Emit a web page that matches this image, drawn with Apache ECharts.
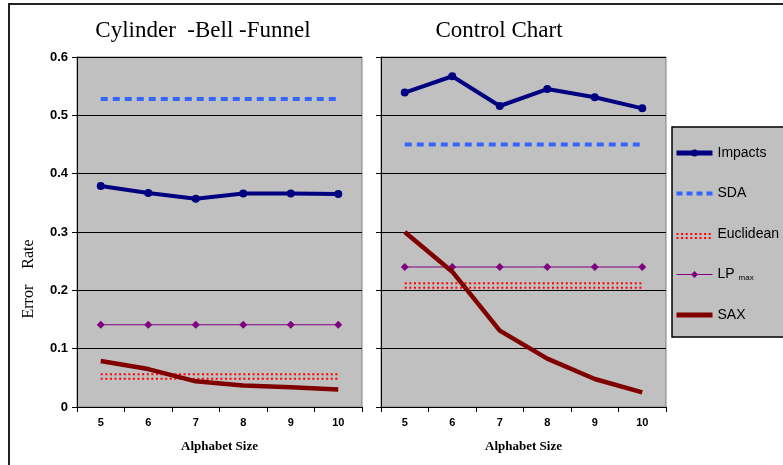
<!DOCTYPE html>
<html>
<head>
<meta charset="utf-8">
<script src="https://cdn.jsdelivr.net/npm/echarts@6/dist/echarts.min.js"></script>
<style>
  html, body {margin: 0; padding: 0; background: #fff; overflow: hidden;}
  #frame {position: absolute; left: 8px; top: 3px; width: 800px; height: 500px; border: 2px solid #222;}
  #main {position: absolute; left: 0; top: 0; width: 783px; height: 465px;}
</style>
</head>
<body>
<div id="frame"></div>
<div id="main"></div>
<script>
// alphabet sizes
const categories = ['5', '6', '7', '8', '9', '10'];
const yTicks = {min: 0, max: 0.6, interval: 0.1};

// Cylinder-Bell-Funnel
const cbfImpacts = [0.379, 0.367, 0.357, 0.366, 0.366, 0.365];
const cbfSda = [0.528, 0.528, 0.528, 0.528, 0.528, 0.528];
const cbfEuclidean = [0.056, 0.056, 0.056, 0.056, 0.056, 0.056];
const cbfLp = [0.141, 0.141, 0.141, 0.141, 0.141, 0.141];
const cbfSax = [0.079, 0.065, 0.044, 0.037, 0.034, 0.030];

// Control Chart
const ccImpacts = [0.539, 0.567, 0.516, 0.545, 0.531, 0.512];
const ccSda = [0.450, 0.450, 0.450, 0.450, 0.450, 0.450];
const ccEuclidean = [0.212, 0.212, 0.212, 0.212, 0.212, 0.212];
const ccLp = [0.240, 0.240, 0.240, 0.240, 0.240, 0.240];
const ccSax = [0.300, 0.232, 0.131, 0.083, 0.048, 0.025];

const serif = '"Liberation Serif", "Times New Roman", serif';
const sans = '"Liberation Sans", Arial, sans-serif';

const euclidStyle = {color: '#ff0000', width: 2, type: [2, 2.6], shadowColor: '#ff0000', shadowOffsetY: 4.5, shadowBlur: 0};

const chart = echarts.init(document.getElementById('main'));

const makeSeries = (idx, impacts, sda, euclid, lp, sax) => [
	{
		name: 'Euclidean', type: 'line', xAxisIndex: idx, yAxisIndex: idx, data: euclid,
		symbol: 'none', z: 2, itemStyle: {color: '#ff0000'},
		lineStyle: euclidStyle
	},
	{
		name: 'SDA', type: 'line', xAxisIndex: idx, yAxisIndex: idx, data: sda,
		symbol: 'none', z: 2, itemStyle: {color: '#3366ff'},
		lineStyle: {color: '#3366ff', width: 4, type: [7, 5]}
	},
	{
		name: 'LPmax', type: 'line', xAxisIndex: idx, yAxisIndex: idx, data: lp,
		symbol: 'diamond', symbolSize: 8, showSymbol: true, z: 3,
		itemStyle: {color: '#800080'},
		lineStyle: {color: '#800080', width: 1}
	},
	{
		name: 'SAX', type: 'line', xAxisIndex: idx, yAxisIndex: idx, data: sax,
		symbol: 'none', z: 4, itemStyle: {color: '#800000'},
		lineStyle: {color: '#800000', width: 4.5, cap: 'butt'}
	},
	{
		name: 'Impacts', type: 'line', xAxisIndex: idx, yAxisIndex: idx, data: impacts,
		symbol: 'circle', symbolSize: 8, showSymbol: true, z: 5,
		itemStyle: {color: '#000080'},
		lineStyle: {color: '#000080', width: 4}
	}
];

const makeX = (idx) => ({
	type: 'category', gridIndex: idx, data: categories, boundaryGap: true,
	name: 'Alphabet Size', nameLocation: 'middle', nameGap: 33,
	nameTextStyle: {fontFamily: serif, fontSize: 13, fontWeight: 'bold', color: '#000'},
	axisLine: {lineStyle: {color: '#000', width: 1}},
	axisTick: {show: true, length: 5, lineStyle: {color: '#000'}},
	axisLabel: {fontFamily: sans, fontSize: 11, fontWeight: 'bold', color: '#000', margin: 10},
	splitLine: {show: false}
});

const makeY = (idx, labels) => ({
	type: 'value', gridIndex: idx, min: yTicks.min, max: yTicks.max, interval: yTicks.interval,
	axisLine: {show: true, lineStyle: {color: '#000', width: 1}},
	axisTick: {show: true, length: 5, lineStyle: {color: '#000'}},
	axisLabel: {show: labels, fontFamily: sans, fontSize: 13, fontWeight: 'bold', color: '#000', margin: 9},
	splitLine: {show: true, lineStyle: {color: '#000', width: 1}}
});

chart.setOption({
	animation: false,
	title: [
		{text: 'Cylinder  -Bell -Funnel', left: 198, top: 14, textAlign: 'center',
			textStyle: {fontFamily: serif, fontSize: 23, fontWeight: 'normal', color: '#000'}},
		{text: 'Control Chart', left: 494, top: 14, textAlign: 'center',
			textStyle: {fontFamily: serif, fontSize: 23, fontWeight: 'normal', color: '#000'}}
	],
	graphic: [
		{type: 'text', x: 29, y: 279, rotation: Math.PI / 2,
			style: {text: 'Error    Rate', fontFamily: serif, fontSize: 16, fill: '#000', align: 'center', verticalAlign: 'middle'}}
	],
	grid: [
		{left: 77, top: 57, width: 285, height: 350, show: true, backgroundColor: '#c0c0c0', borderColor: '#808080', borderWidth: 1},
		{left: 381, top: 57, width: 285, height: 350, show: true, backgroundColor: '#c0c0c0', borderColor: '#808080', borderWidth: 1}
	],
	xAxis: [makeX(0), makeX(1)],
	yAxis: [makeY(0, true), makeY(1, false)],
	legend: {
		orient: 'vertical', left: 672, top: 127,
		data: [
			{name: 'Impacts', lineStyle: {width: 5}},
			{name: 'SDA', itemStyle: {opacity: 0}, lineStyle: {width: 4, type: [6, 4]}},
			{name: 'Euclidean', itemStyle: {opacity: 0}, lineStyle: {width: 2, type: [2, 2.6], shadowColor: '#ff0000', shadowOffsetY: 4, shadowBlur: 0}},
			{name: 'LPmax', lineStyle: {width: 1}},
			{name: 'SAX', itemStyle: {opacity: 0}, lineStyle: {width: 5}}
		],
		backgroundColor: '#c0c0c0', borderColor: '#000', borderWidth: 1.5, borderRadius: 0,
		padding: [19, 30, 15, 2],
		itemWidth: 36, itemHeight: 9, itemGap: 26.5,
		textStyle: {fontFamily: sans, fontSize: 14, color: '#000',
			rich: {sub: {fontFamily: sans, fontSize: 8, color: '#000', verticalAlign: 'bottom', padding: [6, 0, 0, 0]}}},
		formatter: (name) => name === 'LPmax' ? 'LP {sub|max}' : name
	},
	series: [
		...makeSeries(0, cbfImpacts, cbfSda, cbfEuclidean, cbfLp, cbfSax),
		...makeSeries(1, ccImpacts, ccSda, ccEuclidean, ccLp, ccSax)
	]
});
</script>
</body>
</html>
